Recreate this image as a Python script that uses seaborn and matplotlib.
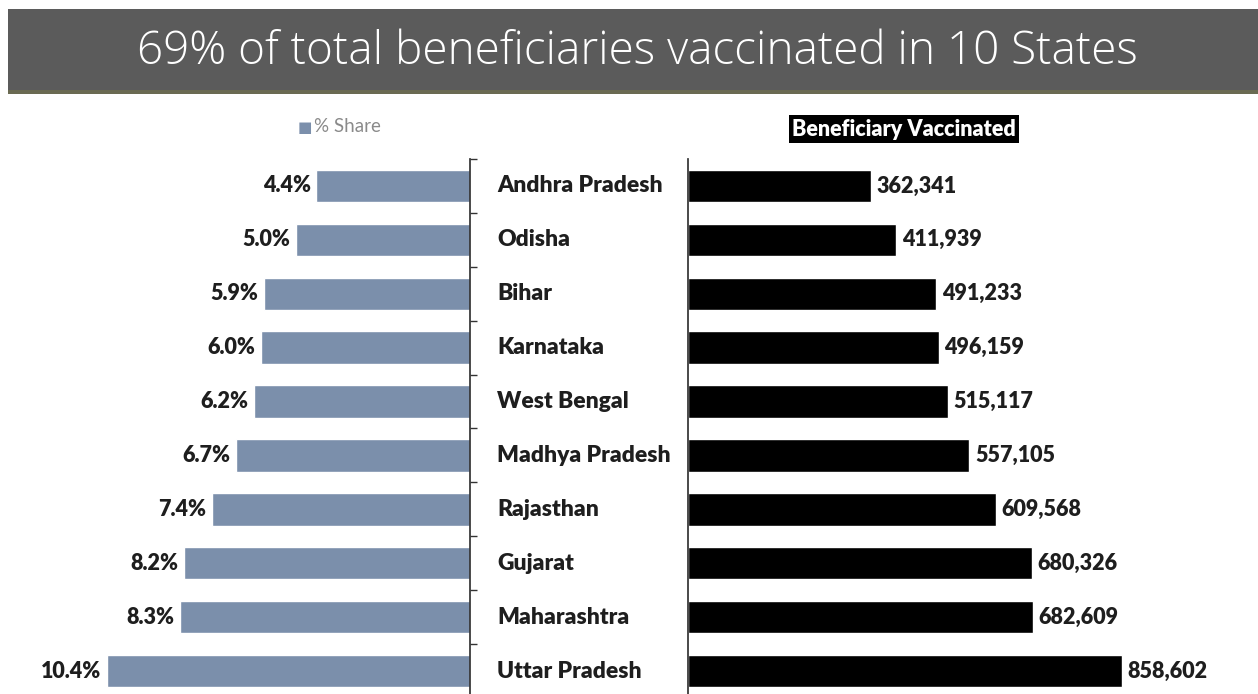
import seaborn as sns
import matplotlib.pyplot as plt
import matplotlib.transforms as mtransforms
from matplotlib.patches import Rectangle
import numpy as np
import pandas as pd

# ---- data ----
states = ["Andhra Pradesh", "Odisha", "Bihar", "Karnataka", "West Bengal",
          "Madhya Pradesh", "Rajasthan", "Gujarat", "Maharashtra", "Uttar Pradesh"]
share_pct = [4.4, 5.0, 5.9, 6.0, 6.2, 6.7, 7.4, 8.2, 8.3, 10.4]
vaccinated = [362341, 411939, 491233, 496159, 515117, 557105, 609568, 680326, 682609, 858602]

title = "69% of total beneficiaries vaccinated in 10 States"
bar_blue = "#7b8fab"

df = pd.DataFrame({"state": states, "share": share_pct, "vaccinated": vaccinated})

sns.set_theme(style="white")
plt.rcParams["font.family"] = ["Lato", "DejaVu Sans"]

W, H = 1258, 694
fig = plt.figure(figsize=(W / 100, H / 100), dpi=100)
fig.patch.set_facecolor("white")

# ---- header bar ----
fig.patches.append(Rectangle((8 / W, 1 - 93 / H), 1, 84 / H, transform=fig.transFigure,
                             facecolor="#5b5b5b", edgecolor="none", zorder=0))
fig.patches.append(Rectangle((8 / W, 1 - 94 / H), 1, 4 / H, transform=fig.transFigure,
                             facecolor="#6a6a52", edgecolor="none", zorder=0))
fig.text(637 / W, 1 - 52 / H, title, color="white", fontsize=33, ha="center", va="center",
         family=["Open Sans", "DejaVu Sans"], fontweight="light")

ax_top = 1 - 159 / H
ax_bot = 1 - 698 / H
ax_l = fig.add_axes([0, ax_bot, 470 / W, ax_top - ax_bot])
ax_r = fig.add_axes([688 / W, ax_bot, 1 - 688 / W, ax_top - ax_bot])

lbl_kw = dict(fontsize=15.5, fontweight="heavy", color="#1e1e1e", va="center")

# ---- left: % share ----
sns.barplot(data=df, y="state", x="share", orient="h", color=bar_blue, width=0.6,
            saturation=1, ax=ax_l)
ax_l.set_xlim(470 / 34.9, 0)
for i, v in enumerate(share_pct):
    ax_l.annotate(f"{v:.1f}%", (v, i), xytext=(-4, 0), textcoords="offset points",
                  ha="right", **lbl_kw)

# ---- right: beneficiaries ----
sns.barplot(data=df, y="state", x="vaccinated", orient="h", color="black", width=0.6,
            saturation=1, ax=ax_r)
ax_r.set_xlim(0, (W - 688) / 0.000505)
for i, v in enumerate(vaccinated):
    ax_r.annotate(f"{v:,}", (v, i), xytext=(4, 0), textcoords="offset points",
                  ha="left", **lbl_kw)

for ax in (ax_l, ax_r):
    ax.set_ylim(9.5, -0.5)
    ax.set_xlabel("")
    ax.set_ylabel("")
    ax.set_xticks([])
    ax.set_yticks(np.arange(-0.5, 10, 1))
    ax.set_yticklabels([])
    ax.set_facecolor("none")
    for s in ax.spines.values():
        s.set_visible(False)

ax_l.spines["right"].set_visible(True)
ax_l.spines["right"].set_color("#333333")
ax_l.yaxis.tick_right()
ax_l.tick_params(axis="y", direction="out", length=5, color="#333333", width=1)

ax_r.spines["left"].set_visible(True)
ax_r.spines["left"].set_color("#333333")
ax_r.tick_params(axis="y", direction="out", length=5, color="#333333", width=1)

# ---- state names between the two panels ----
trans = mtransforms.blended_transform_factory(fig.transFigure, ax_l.transData)
name_kw = dict(lbl_kw, fontsize=16.5)
for i, name in enumerate(states):
    fig.text(497 / W, i, name, transform=trans, ha="left", **name_kw)

# ---- legends ----
fig.text(298 / W, 1 - 127 / H, "■", color=bar_blue, fontsize=11, ha="left", va="center",
         family=["DejaVu Sans"])
fig.text(314 / W, 1 - 127 / H, "% Share", color="#8a8a8a", fontsize=13.5, ha="left", va="center")
fig.text(904 / W, 1 - 129 / H, "Beneficiary Vaccinated", color="white", fontsize=15.5,
         fontweight="heavy", ha="center", va="center",
         bbox=dict(facecolor="black", edgecolor="none", boxstyle="square,pad=0.15"))

fig.savefig("out.png", dpi=100)
